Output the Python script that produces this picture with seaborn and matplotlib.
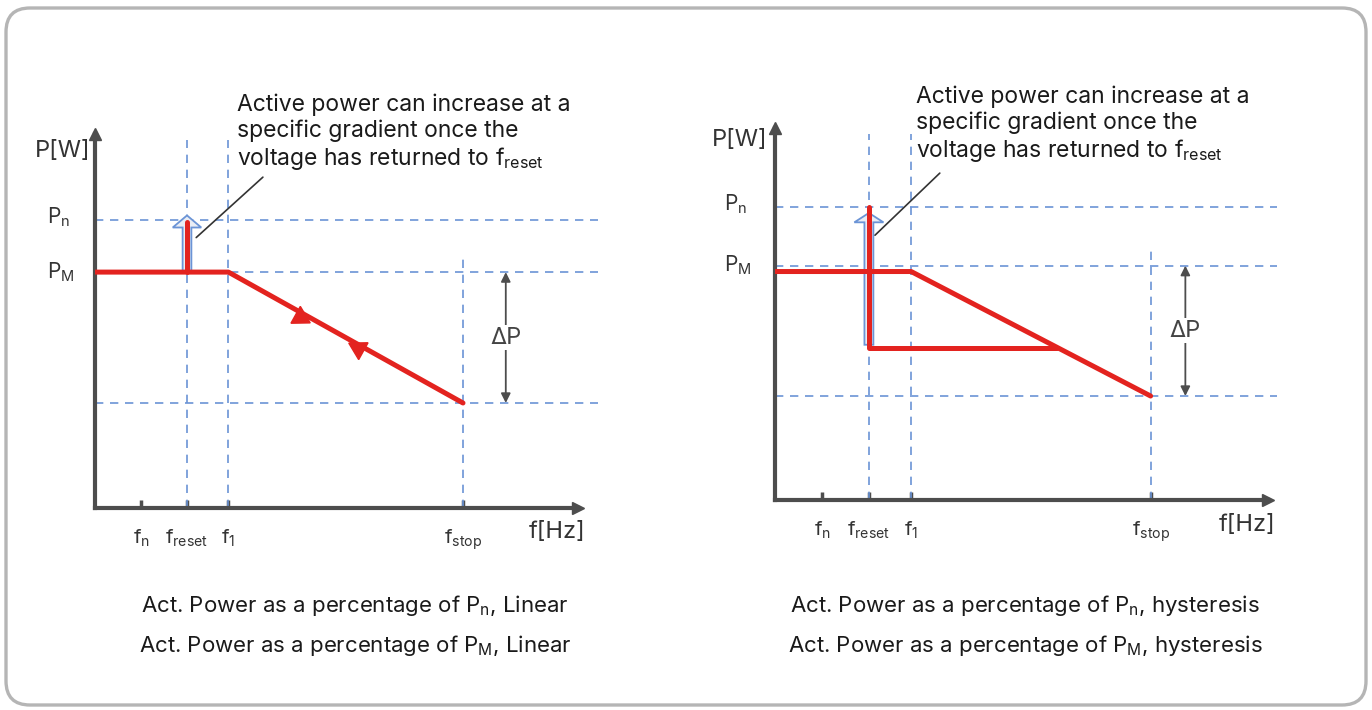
import numpy as np
import pandas as pd
import seaborn as sns
import matplotlib.pyplot as plt
from matplotlib.patches import FancyBboxPatch, FancyArrow

RED = "#e3231f"
BLUE = "#6b94d6"
AXIS = "#4d4d4d"
TEXT = "#1a1a1a"

# f axis positions (relative units)
f_ticks = [1.0, 2.0, 2.9, 8.0]
f_labels = ["f$_\\mathregular{n}$", "f$_\\mathregular{reset}$",
            "f$_\\mathregular{1}$", "f$_\\mathregular{stop}$"]

# power levels in % of Pn: [Pn, PM, P at fstop]
lin_levels = [100, 82, 36.5]
hys_levels = [100, 80, 35.5]

# linear curve (left)
lin_f = [0, 2.9, 8.0]
lin_p = [82, 82, 36.5]
lin_reset_f = [2.0, 2.0]
lin_reset_p = [82, 99.5]
lin_marks_f = [4.46, 5.72]
lin_marks_p = [66.5, 55.7]
lin_marks_rot = [-119, 61]

# hysteresis curve (right)
hys_f = [0, 2.9, 8.0]
hys_p = [78, 78, 35.5]
hys_reset_f = [2.0, 2.0, 6.0]
hys_reset_p = [100, 52, 52]

note = ("Active power can increase at a\nspecific gradient once the\n"
        "voltage has returned to f$_\\mathregular{reset}$")
captions_lin = ["Act. Power as a percentage of P$_\\mathregular{n}$, Linear",
                "Act. Power as a percentage of P$_\\mathregular{M}$, Linear"]
captions_hys = ["Act. Power as a percentage of P$_\\mathregular{n}$, hysteresis",
                "Act. Power as a percentage of P$_\\mathregular{M}$, hysteresis"]

sns.set_theme(style="white")
plt.rcParams["font.family"] = ["Inter", "DejaVu Sans"]

W, H = 1372, 710
fig = plt.figure(figsize=(W / 100, H / 100), dpi=100)

# rounded frame
bg = fig.add_axes([0, 0, 1, 1], zorder=0)
bg.set_xlim(0, W)
bg.set_ylim(0, H)
bg.axis("off")
bg.add_patch(FancyBboxPatch((6, 5), W - 12, H - 13, boxstyle="round,pad=0,rounding_size=24",
                            fc="white", ec="#b5b5b5", lw=2.4))


def panel(rect, ytop, levels, curve_f, curve_p, reset_f, reset_p, arrow, lead, note_xy,
          dp_x, hline_end, pw_xy):
    ax = fig.add_axes(rect, zorder=2)
    ax.set_facecolor("none")
    ax.set_xlim(0, 10.5)
    ax.set_ylim(0, ytop)
    pn, pm, ps = levels

    # dashed guides
    ls = (0, (5, 4))
    ax.hlines(levels, 0, hline_end, colors=BLUE, lw=1.2, linestyles=ls, clip_on=False)
    ax.vlines(f_ticks[1:3], 0, ytop - 2, colors=BLUE, lw=1.2, linestyles=ls)
    ax.vlines(f_ticks[3], 0, ps + 50, colors=BLUE, lw=1.2, linestyles=ls)

    # hollow arrow at freset
    x0, y0, y1, hl = arrow
    ax.add_patch(FancyArrow(x0, y0, 0, y1 - y0, width=0.19, head_width=0.62, head_length=hl,
                            length_includes_head=True, fc="#e9edf5", ec=BLUE, lw=1.3, zorder=3))

    # red characteristic
    sns.lineplot(x=curve_f, y=curve_p, sort=False, estimator=None, color=RED, lw=3.6, ax=ax, zorder=4)
    sns.lineplot(x=reset_f, y=reset_p, sort=False, estimator=None, color=RED, lw=3.6, ax=ax, zorder=4)

    # leader line + note
    ax.plot(lead[0], lead[1], color="#333333", lw=1.2, zorder=5)
    ax.text(note_xy[0], note_xy[1], note, fontsize=16.5, color=TEXT, va="top", ha="left",
            linespacing=1.17, clip_on=False)

    # delta P
    ax.annotate("", xy=(dp_x, ps), xytext=(dp_x, pm),
                arrowprops=dict(arrowstyle="<|-|>", color=AXIS, lw=1.3, mutation_scale=14,
                                shrinkA=0, shrinkB=0))
    ax.text(dp_x, (pm + ps) / 2, "ΔP", fontsize=17, color="#444444", ha="center", va="center",
            bbox=dict(fc="white", ec="none", pad=1))

    # axes
    sns.despine(ax=ax)
    for s in ["left", "bottom"]:
        ax.spines[s].set_linewidth(3)
        ax.spines[s].set_color(AXIS)
    ax.plot(1, 0, ">", color=AXIS, ms=9, transform=ax.get_yaxis_transform(), clip_on=False)
    ax.plot(0, 1, "^", color=AXIS, ms=9, transform=ax.get_xaxis_transform(), clip_on=False)
    ax.set_xticks(f_ticks, f_labels)
    ax.set_yticks([])
    ax.tick_params(axis="x", direction="in", length=6, width=2.5, color=AXIS, pad=14,
                   labelsize=14.5, labelcolor="#333333", bottom=True)
    ax.text(10.05, -8.5, "f[Hz]", fontsize=17, color="#333333", ha="center", va="center",
            clip_on=False)
    ax.text(pw_xy[0], pw_xy[1], "P[W]", fontsize=17, color="#333333", ha="left", va="center",
            clip_on=False)
    ax.text(pw_xy[0] + 0.25, pn + 1, "P$_\\mathregular{n}$", fontsize=15, color="#333333",
            ha="left", va="center", clip_on=False)
    ax.text(pw_xy[0] + 0.25, pm, "P$_\\mathregular{M}$", fontsize=15, color="#333333",
            ha="left", va="center", clip_on=False)
    return ax


ax1 = panel([95 / W, (H - 508) / H, 483 / W, 374 / H], 130, lin_levels, lin_f, lin_p,
            lin_reset_f, lin_reset_p, (2.0, 82, 101.7, 4.2), ([2.2, 3.65], [94, 115]),
            (3.09, 144), 8.93, 10.93, (-1.3, 124))
for fx, py, rot in zip(lin_marks_f, lin_marks_p, lin_marks_rot):
    ax1.plot(fx, py, marker=(3, 0, rot), ms=16, color=RED, mec=RED, zorder=5)

ax2 = panel([775 / W, (H - 500) / H, 493 / W, 372 / H], 127, hys_levels, hys_f, hys_p,
            hys_reset_f, hys_reset_p, (2.0, 53, 98, 3.2), ([2.13, 3.51], [90.4, 111.6]),
            (3.0, 141.5), 8.74, 10.7, (-1.34, 123))

for cx, caps in [(355, captions_lin), (1025, captions_hys)]:
    for cy, c in zip([606, 645], caps):
        fig.text(cx / W, 1 - cy / H, c, fontsize=16, color=TEXT, ha="center", va="center")

fig.savefig("out.png", dpi=100)
